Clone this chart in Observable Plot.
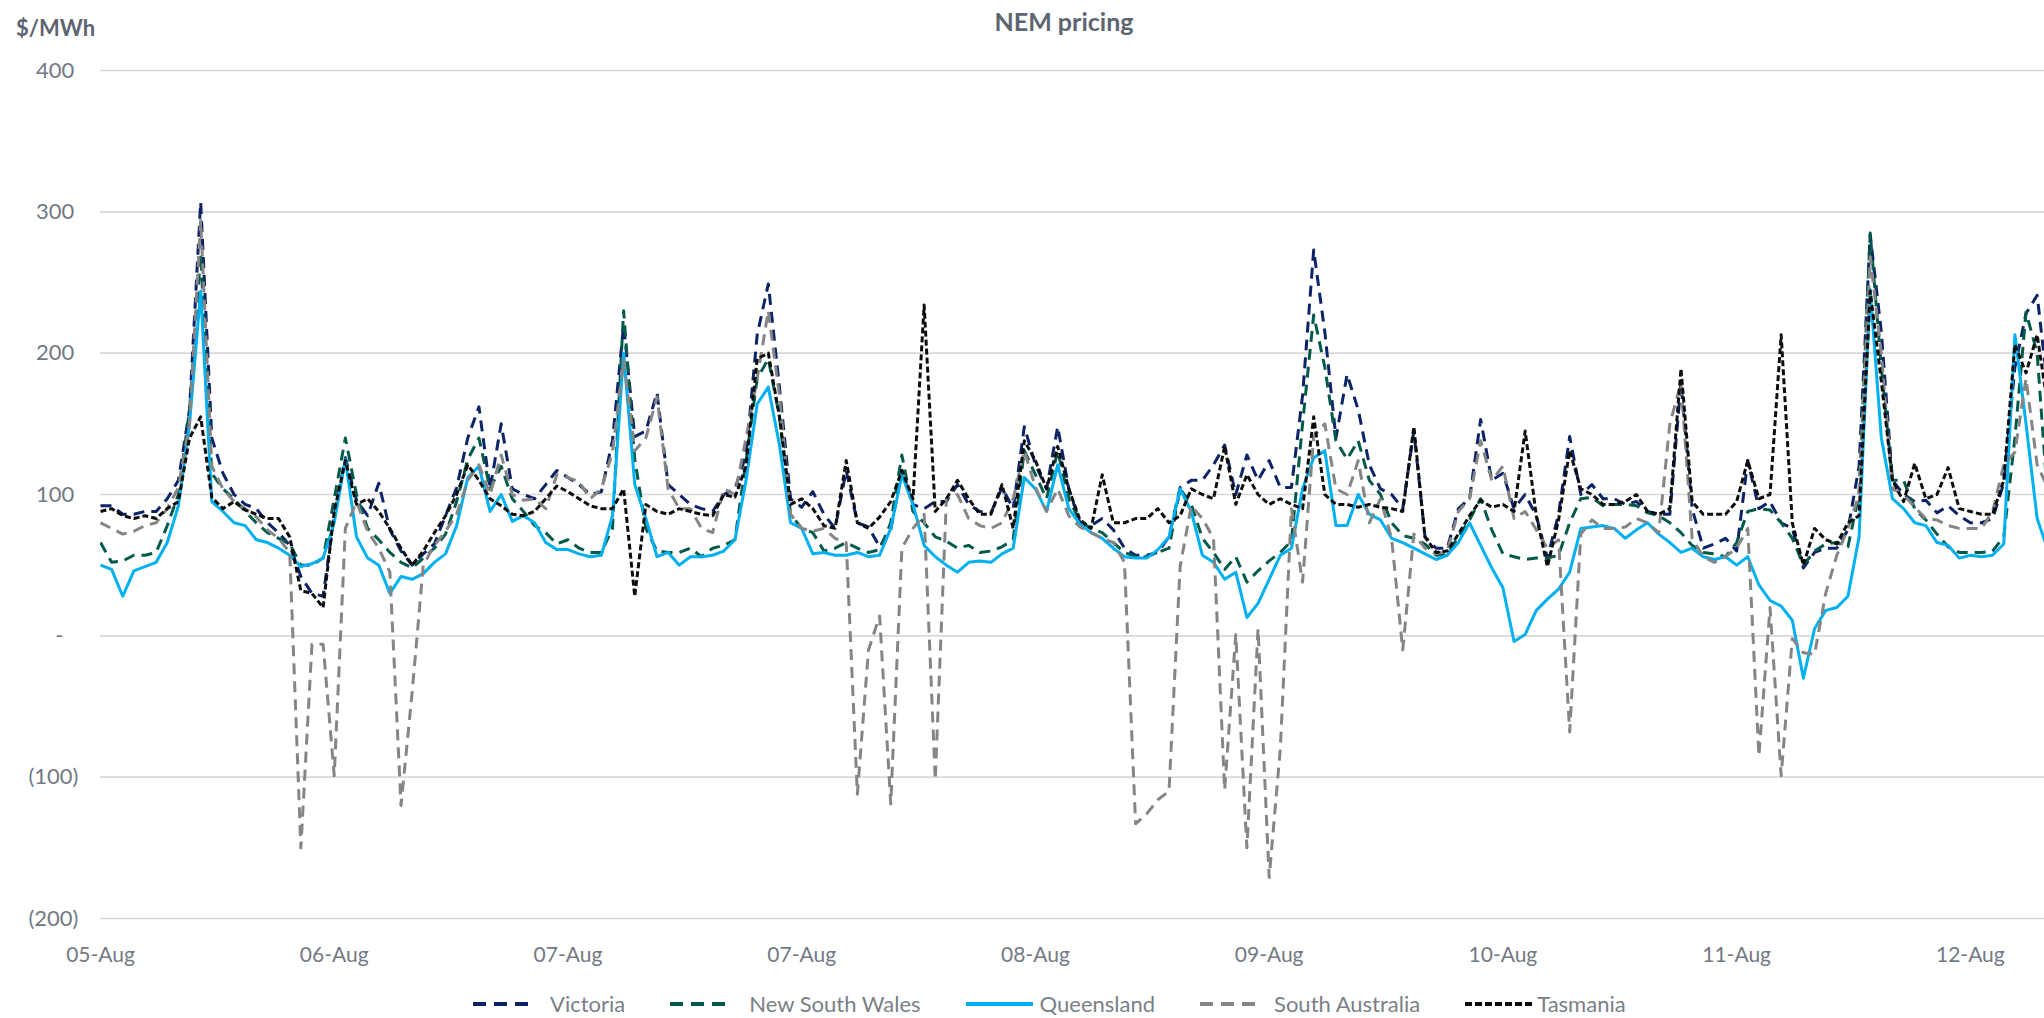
<!DOCTYPE html>
<html>
<head>
<meta charset="utf-8">
<script src="https://cdn.jsdelivr.net/npm/d3@7"></script>
<script src="https://cdn.jsdelivr.net/npm/@observablehq/plot@0.6"></script>
<style>
  html, body { margin: 0; padding: 0; background: #ffffff; }
  body { font-family: Lato, "Open Sans", "DejaVu Sans", sans-serif; }
  #wrap { width: 2044px; height: 1018px; overflow: hidden; }
  #head { height: 50px; position: relative; }
  #title { position: absolute; left: 84px; right: 0; top: 7px; text-align: center;
           font-weight: 700; font-size: 25px; line-height: 28px; color: #5d6570; }
  #unit { position: absolute; left: 16px; top: 15px; font-weight: 700; font-size: 22px;
          line-height: 26px; color: #5d6570; }
  #legend { height: 28px; display: flex; align-items: center; padding-left: 473px;
            font-size: 22px; color: #7a7f87; line-height: 28px; }
  .item { display: flex; align-items: center; }
  .item svg { display: block; }
</style>
</head>
<body>
<div id="wrap">
  <div id="head"><div id="unit">$/MWh</div><div id="title">NEM pricing</div></div>
  <div id="chart"></div>
  <div id="legend"></div>
</div>
<script>
// Hourly-spaced readings (index 0 = first point on 05-Aug)
const xLabels = ["05-Aug","06-Aug","07-Aug","07-Aug","08-Aug","09-Aug","10-Aug","11-Aug","12-Aug"];
const yTicks = [-200,-100,0,100,200,300,400];

const victoria = [
92,92,86,86,88,88,97,110,160,307,
140,115,100,93,90,80,73,64,42,30,
28,85,126,96,85,108,75,60,50,58,
65,85,105,140,162,104,150,104,100,97,
107,117,112,107,100,102,138,220,141,145,
172,107,100,93,90,88,100,104,128,213,
249,176,97,91,102,86,76,117,80,77,
63,75,117,93,90,95,95,107,93,88,
87,105,90,148,121,104,148,104,80,78,
83,75,62,57,57,59,70,105,110,110,
121,135,100,128,110,124,105,105,170,273,
215,140,185,160,121,104,100,90,145,70,
62,62,90,97,153,110,115,90,100,85,
55,86,141,100,107,97,97,93,95,88,
86,86,179,90,62,65,69,60,124,90,
95,80,76,48,59,62,62,75,120,284,
215,110,100,95,96,87,92,85,80,80,
83,108,190,228,241,172];

const nsw = [
66,52,53,57,57,59,78,100,160,270,
115,104,97,88,80,73,69,65,50,50,
55,97,140,100,76,68,59,52,48,55,
62,72,95,125,140,104,120,97,88,78,
73,65,68,62,59,59,76,230,125,76,
60,59,59,62,56,62,64,68,124,182,
196,155,86,76,73,60,62,66,62,59,
61,80,128,88,80,70,67,62,64,59,
60,63,68,131,114,97,131,97,81,76,
73,66,59,56,56,59,62,104,93,69,
59,47,56,38,46,53,59,67,150,227,
190,138,125,138,110,100,80,71,69,65,
57,58,70,82,97,75,58,56,54,55,
55,57,80,97,98,92,93,93,92,87,
85,80,73,64,59,58,56,66,88,90,
89,80,69,50,60,65,66,63,100,285,
190,110,110,90,82,72,63,59,59,59,
60,70,140,229,200,90];

const queensland = [
50,47,28,46,49,52,66,92,150,244,
95,88,80,78,68,66,62,57,49,51,
55,80,125,70,55,50,30,42,40,44,
52,58,78,112,120,88,100,81,85,80,
66,61,61,58,56,57,85,200,107,83,
56,59,50,56,56,57,60,68,110,164,
176,135,80,76,58,59,57,57,59,56,
57,76,114,93,64,56,50,45,52,53,
52,58,62,112,104,88,121,90,79,73,
69,62,56,55,55,61,70,104,88,57,
52,40,45,13,23,40,57,62,104,126,
131,78,78,100,86,82,69,66,62,58,
54,57,66,80,64,48,34,-4,1,18,
26,33,45,76,77,78,76,69,75,80,
72,66,59,62,56,54,56,50,56,36,
25,21,11,-30,5,18,20,28,70,245,
140,97,90,80,78,66,64,55,57,56,
57,65,213,150,83,60];

const southAustralia = [
80,76,72,74,78,80,90,105,150,294,
120,104,95,90,84,75,69,59,-150,-6,
-6,-99,76,95,74,62,45,-120,-40,50,
64,74,86,110,121,100,128,100,96,97,
90,114,112,109,97,104,130,195,131,140,
169,104,90,90,76,73,104,100,140,182,
230,170,86,76,74,76,69,66,-112,-10,
14,-119,62,76,86,-102,97,100,83,78,
76,80,97,131,105,88,104,85,77,73,
69,66,52,-133,-126,-116,-110,49,92,83,
69,-109,1,-150,5,-171,-80,90,38,141,
150,104,100,124,80,97,69,-10,72,62,
58,60,88,97,138,110,120,83,88,75,
62,68,-68,72,82,76,76,77,83,80,
73,150,179,69,56,52,56,62,76,-85,
20,-99,-2,-12,-13,30,57,76,100,268,
200,104,100,91,83,82,78,76,76,76,
88,121,130,182,121,104];

const tasmania = [
88,90,85,83,85,83,90,95,140,155,
98,90,95,89,86,83,83,70,32,30,
20,88,124,93,97,88,76,62,50,60,
73,85,100,121,110,97,92,86,85,88,
97,106,102,97,92,90,90,104,28,93,
88,86,90,88,86,85,100,98,120,196,
200,155,93,97,90,78,76,124,80,76,
84,95,117,97,234,88,97,110,97,86,
86,107,76,138,124,104,134,104,82,76,
114,80,80,83,83,90,80,85,104,100,
97,134,93,114,100,93,97,93,90,155,
100,93,93,91,93,91,90,88,148,70,
59,60,72,85,96,91,93,88,145,85,
49,82,131,104,100,93,93,95,100,88,
86,90,189,95,86,86,86,95,124,97,
100,213,80,50,76,68,65,80,85,244,
180,110,95,122,97,100,119,90,88,86,
86,110,206,186,213,160];

const seriesNames = ["Victoria","New South Wales","Queensland","South Australia","Tasmania"];
const seriesValues = [victoria, nsw, queensland, southAustralia, tasmania];
const seriesColors = ["#0c2466","#035a4a","#00b0f0","#858585","#0d0d0d"];
const seriesDash = ["11,7","11,7",null,"11,7","6,3"];

const labelStep = 21; // points between category labels
const xTicks = xLabels.map((_, k) => k * labelStep);

const fmtY = v => v === 0 ? "-\u2002\u2009\u200A" : (v < 0 ? `(${-v})` : `${v}\u2009\u200A`);

const lineMarks = seriesValues.map((vals, s) =>
  Plot.line(vals, {
    x: (d, i) => i,
    y: d => d,
    stroke: seriesColors[s],
    strokeWidth: 3,
    strokeDasharray: seriesDash[s] || undefined,
    strokeLinejoin: "round",
    strokeLinecap: "butt",
    clip: true
  })
);

const chart = Plot.plot({
  width: 2044,
  height: 940,
  marginLeft: 100,
  marginRight: 0,
  marginTop: 20,
  marginBottom: 72,
  style: { fontFamily: "Lato, 'Open Sans', sans-serif", fontSize: "22px", color: "#737984", background: "#ffffff" },
  x: { domain: [0, 174.66], axis: null },
  y: { domain: [-200, 400], axis: null },
  marks: [
    Plot.gridY(yTicks, { stroke: "#d9d9d9", strokeOpacity: 1, strokeWidth: 1.6 }),
    Plot.axisY({ ticks: yTicks, tickFormat: fmtY, tickSize: 0, tickPadding: 22, label: null, fontSize: 22 }),
    Plot.axisX({ ticks: xTicks, tickFormat: i => xLabels[Math.round(i / labelStep)], tickSize: 0, tickPadding: 29, label: null, fontSize: 21 }),
    ...lineMarks
  ]
});
document.getElementById("chart").appendChild(chart);

// Legend
const legend = document.getElementById("legend");
const swatchW = [58, 59, 67, 55, 68];
const textGap = [19, 20, 7, 19, 4];
seriesNames.forEach((name, s) => {
  const item = document.createElement("div");
  item.className = "item";
  item.style.marginRight = s < seriesNames.length - 1 ? "45px" : "0";
  const ns = "http://www.w3.org/2000/svg";
  const svg = document.createElementNS(ns, "svg");
  svg.setAttribute("width", swatchW[s]);
  svg.setAttribute("height", 12);
  const ln = document.createElementNS(ns, "line");
  ln.setAttribute("x1", 0); ln.setAttribute("x2", swatchW[s]);
  ln.setAttribute("y1", 6); ln.setAttribute("y2", 6);
  ln.setAttribute("stroke", seriesColors[s]);
  ln.setAttribute("stroke-width", 4);
  if (seriesDash[s]) ln.setAttribute("stroke-dasharray", s === 4 ? "7,3" : "13,8");
  svg.appendChild(ln);
  const txt = document.createElement("span");
  txt.textContent = name;
  txt.style.marginLeft = textGap[s] + "px";
  item.appendChild(svg);
  item.appendChild(txt);
  legend.appendChild(item);
});
</script>
</body>
</html>
